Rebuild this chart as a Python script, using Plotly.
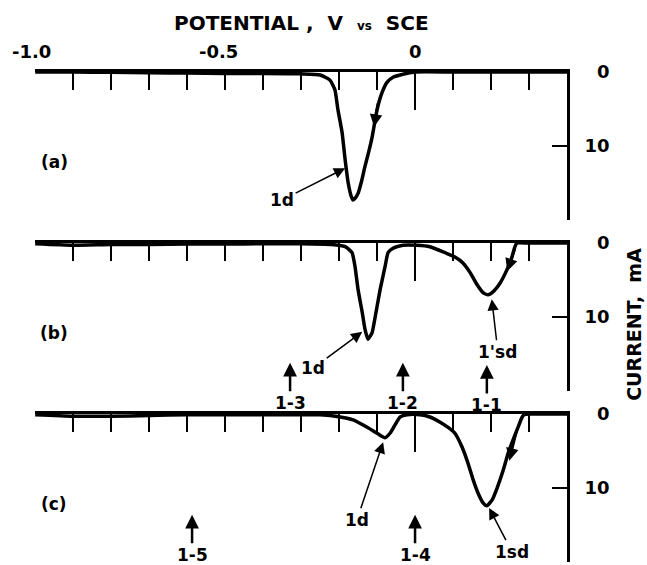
import plotly.graph_objects as go

# ---------------- data (potential V vs SCE, current mA) ----------------
V_a = [-1.0, -0.9, -0.8, -0.7, -0.6, -0.5, -0.4, -0.3, -0.25, -0.224, -0.211, -0.203,
       -0.192, -0.184, -0.176, -0.168, -0.163, -0.157, -0.150, -0.141, -0.132, -0.122,
       -0.113, -0.100, -0.087, -0.074, -0.058, -0.032, 0.0, 0.1, 0.2, 0.3, 0.4]
I_a = [0.0, 0.0, 0.05, 0.1, 0.15, 0.2, 0.2, 0.25, 0.4, 1.1, 2.4, 5.1,
       8.2, 11.9, 15.0, 16.8, 17.3, 17.0, 16.4, 14.8, 12.8, 10.8,
       8.8, 5.1, 2.8, 1.4, 0.7, 0.3, 0.0, 0.0, 0.0, 0.0, 0.0]

V_b = [-1.0, -0.9, -0.8, -0.7, -0.6, -0.5, -0.4, -0.3, -0.22, -0.184, -0.166, -0.158,
       -0.150, -0.139, -0.132, -0.124, -0.113, -0.105, -0.092, -0.079, -0.071, -0.058,
       -0.032, 0.005, 0.039, 0.074, 0.105, 0.126, 0.145, 0.163, 0.179, 0.192, 0.205,
       0.224, 0.242, 0.255, 0.263, 0.268, 0.3, 0.4]
I_b = [0.1, 0.3, 0.2, 0.2, 0.15, 0.15, 0.1, 0.1, 0.2, 0.5, 1.3, 3.2,
       6.3, 9.4, 11.6, 13.0, 12.1, 10.0, 6.3, 3.2, 1.3, 0.7,
       0.3, 0.3, 0.5, 1.2, 1.9, 2.7, 4.0, 5.6, 6.7, 7.0, 6.6,
       5.4, 3.6, 1.9, 0.5, 0.0, 0.0, 0.0]

V_c = [-1.0, -0.9, -0.8, -0.7, -0.6, -0.5, -0.4, -0.3, -0.25, -0.197, -0.163, -0.126,
       -0.100, -0.079, -0.066, -0.053, -0.039, -0.021, 0.013, 0.039, 0.066, 0.087,
       0.105, 0.124, 0.139, 0.153, 0.166, 0.179, 0.189, 0.203, 0.216, 0.232, 0.245,
       0.258, 0.271, 0.282, 0.287, 0.3, 0.4]
I_c = [0.1, 0.3, 0.3, 0.2, 0.1, 0.1, 0.1, 0.1, 0.1, 0.4, 0.8, 1.8,
       2.6, 3.2, 2.6, 1.5, 0.4, 0.1, 0.1, 0.4, 1.1, 1.8,
       2.6, 4.5, 6.6, 8.9, 10.7, 12.0, 12.4, 11.6, 10.0, 7.6, 5.3,
       3.5, 1.8, 0.4, 0.1, 0.0, 0.0]

x_tick_labels = ["-1.0", "-0.5", "0"]
x_tick_values = [-1.0, -0.5, 0.0]
x_long_ticks = [-1.0, 0.0]
x_minor_ticks = [-0.9, -0.8, -0.7, -0.6, -0.5, -0.4, -0.3, -0.2, -0.1, 0.1, 0.2, 0.3]
y_tick_values = [0, 10, 20]
y_tick_labels = ["\u20070", "10", ""]

panel_labels = ["(a)", "(b)", "(c)"]

# peak labels: (panel, text, head V, head I, text V, text I)
peak_labels = [
    (1, "1d", -0.184, 13.0, -0.350, 17.3),
    (2, "1d", -0.139, 12.0, -0.268, 16.9),
    (2, "1'sd", 0.202, 7.6, 0.218, 14.7),
    (3, "1d", -0.084, 3.8, -0.153, 14.3),
    (3, "1sd", 0.195, 12.7, 0.255, 18.6),
]
# marked potentials: (panel, text, V, head I)
marks = [
    (2, "1-3", -0.329, 16.2),
    (2, "1-2", -0.032, 16.2),
    (2, "1-1", 0.189, 16.5),
    (3, "1-5", -0.587, 13.6),
    (3, "1-4", 0.0, 13.6),
]
# sweep-direction arrows: (panel, tail V, tail I, head V, head I)
sweep_arrows = [
    (1, -0.097, 4.0, -0.108, 7.4),
    (2, 0.264, 0.6, 0.243, 3.8),
    (3, 0.268, 2.2, 0.248, 6.3),
]

FONT = "DejaVu Sans"
BLACK = "black"

fig = go.Figure()
series = [(V_a, I_a), (V_b, I_b), (V_c, I_c)]
domains = [[0.698, 1.0], [0.349, 0.651], [0.0, 0.302]]

for k, (V, I) in enumerate(series):
    s = "" if k == 0 else str(k + 1)
    fig.add_trace(go.Scatter(x=V, y=I, mode="lines", xaxis="x" + s, yaxis="y" + s,
                             line=dict(color=BLACK, width=3.5, shape="spline", smoothing=0.5),
                             showlegend=False, hoverinfo="skip"))
    fig.layout["xaxis" + s] = dict(
        domain=[0, 1], anchor="y" + s, range=[-1.0005, 0.4], side="top",
        showline=True, linecolor=BLACK, linewidth=3, showgrid=False, zeroline=False,
        ticks="inside", tickvals=x_long_ticks, ticklen=38, tickwidth=1.5, tickcolor=BLACK,
        showticklabels=False,
        minor=dict(tickvals=x_minor_ticks, ticks="inside", ticklen=18, tickwidth=1.5,
                   tickcolor=BLACK, showgrid=False),
    )
    fig.layout["yaxis" + s] = dict(
        domain=domains[k], anchor="x" + s, range=[20, 0], side="right",
        showline=True, linecolor=BLACK, linewidth=3, showgrid=False, zeroline=False,
        ticks="inside", tickvals=y_tick_values, ticktext=y_tick_labels, ticklen=15,
        tickwidth=1.5, tickcolor=BLACK, ticklabelstandoff=11,
        tickfont=dict(family=FONT, size=18, color=BLACK, weight="bold"),
    )

ann = []
# top potential labels
shifts = [-4, -7, 0]
for v, t, sh in zip(x_tick_values, x_tick_labels, shifts):
    ann.append(dict(x=v, y=1.041, xref="x", yref="paper", yanchor="middle", xanchor="center",
                    text=t, showarrow=False, xshift=sh,
                    font=dict(family=FONT, size=18, color=BLACK, weight="bold")))
# title
ann.append(dict(x=0.5, y=1.100, xref="paper", yref="paper", yanchor="middle", xanchor="center",
                showarrow=False,
                text="POTENTIAL\u00a0,\u00a0\u00a0V\u00a0\u00a0<span style='font-size:12px'>vs</span>\u00a0\u00a0SCE",
                font=dict(family=FONT, size=20, color=BLACK, weight="bold")))
# right axis title
ann.append(dict(x=1.126, y=0.484, xref="paper", yref="paper", xanchor="center", yanchor="middle",
                showarrow=False, textangle=-90,
                text="CURRENT,\u00a0\u00a0mA",
                font=dict(family=FONT, size=19, color=BLACK, weight="bold")))
# panel letters
for k, lab in enumerate(panel_labels):
    s = "" if k == 0 else str(k + 1)
    ann.append(dict(x=-0.95, y=12.2, xref="x" + s, yref="y" + s, text=lab, showarrow=False,
                    font=dict(family=FONT, size=17, color=BLACK, weight="bold")))
# peak labels
for p, t, hx, hy, tx, ty in peak_labels:
    s = "" if p == 1 else str(p)
    ann.append(dict(x=hx, y=hy, ax=tx, ay=ty, xref="x" + s, yref="y" + s,
                    axref="x" + s, ayref="y" + s, text=t, showarrow=True,
                    arrowhead=2, arrowsize=1.5, arrowwidth=1.5, arrowcolor=BLACK,
                    font=dict(family=FONT, size=17, color=BLACK, weight="bold")))
# marked potentials
for p, t, v, hy in marks:
    s = "" if p == 1 else str(p)
    ann.append(dict(x=v, y=hy, ax=0, ay=40, xref="x" + s, yref="y" + s, text=t,
                    showarrow=True, arrowhead=2, arrowsize=1.1, arrowwidth=2.5,
                    arrowcolor=BLACK,
                    font=dict(family=FONT, size=17, color=BLACK, weight="bold")))
# sweep direction arrows
for p, tx, ty, hx, hy in sweep_arrows:
    s = "" if p == 1 else str(p)
    ann.append(dict(x=hx, y=hy, ax=tx, ay=ty, xref="x" + s, yref="y" + s,
                    axref="x" + s, ayref="y" + s, text="", showarrow=True,
                    arrowhead=2, arrowsize=1.0, arrowwidth=2.5, arrowcolor=BLACK))

fig.update_layout(
    width=647, height=565,
    margin=dict(l=35, r=80, t=72, b=3),
    paper_bgcolor="white", plot_bgcolor="white",
    annotations=ann, showlegend=False,
)

fig.write_html("out.html")
